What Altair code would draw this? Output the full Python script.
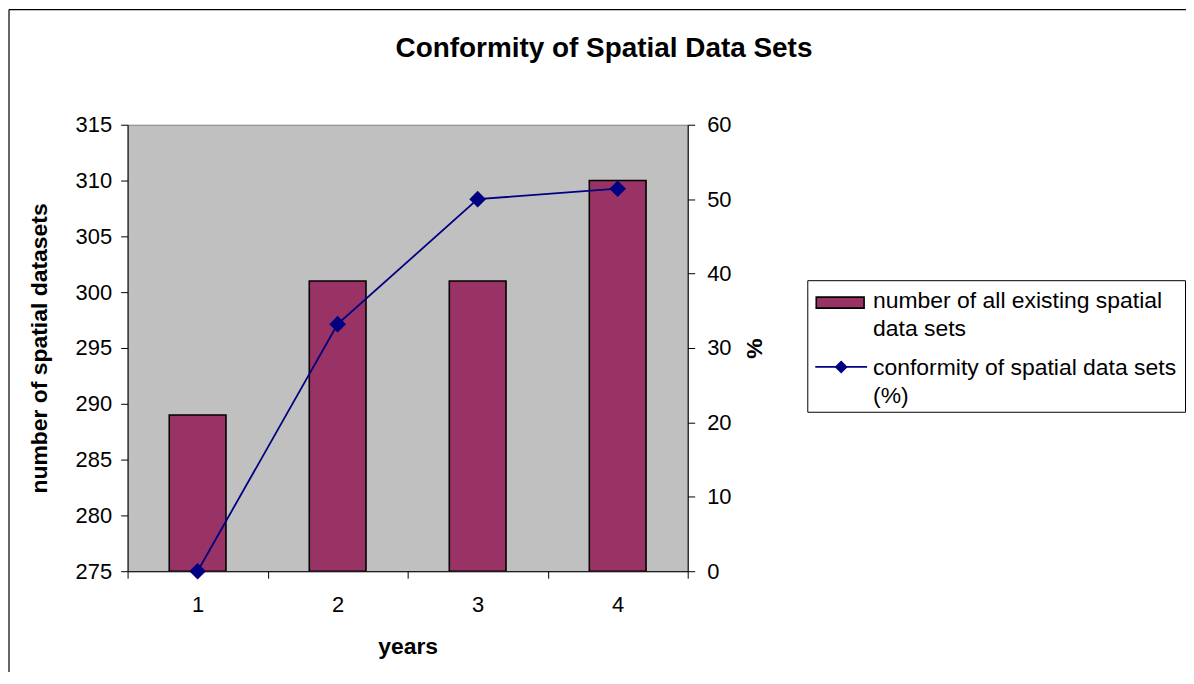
import altair as alt
import pandas as pd

# ---- data ----
YEARS = ["1", "2", "3", "4"]
DATASETS = [289, 301, 301, 310]
CONFORMITY = [0, 33.2, 50, 51.4]

TITLE = "Conformity of Spatial Data Sets"
BAR_LABEL = ["number of all existing spatial", "data sets"]
LINE_LABEL = ["conformity of spatial data sets", "(%)"]
LEFT_TITLE = "number of spatial datasets"
RIGHT_TITLE = "%"
X_TITLE = "years"
LEFT_TICKS = [275, 280, 285, 290, 295, 300, 305, 310, 315]
RIGHT_TICKS = [0, 10, 20, 30, 40, 50, 60]

BAR_COLOR = "#993366"
LINE_COLOR = "#000080"
FONT = "Liberation Sans"

df = pd.DataFrame({"year": YEARS, "datasets": DATASETS, "conformity": CONFORMITY})

W, H = 562, 448
TOTAL_W, TOTAL_H = 1182, 664
PAD_L, PAD_T = 120, 116

x_enc = alt.X(
    "year:O",
    sort=YEARS,
    scale=alt.Scale(paddingInner=0, paddingOuter=0),
    axis=alt.Axis(
        title=X_TITLE, labelAngle=0, tickBand="extent", grid=False,
        domainColor="black", tickColor="black", tickSize=7,
        labelFontSize=22, labelPadding=16, labelColor="black",
        titleFontSize=23, titleFontWeight="bold", titleColor="black",
        titleX=W / 2, titleY=76, titleBaseline="middle",
    ),
)

bars = alt.Chart(df).mark_bar(
    width=alt.RelativeBandSize(0.405), fill=BAR_COLOR, stroke="black", strokeWidth=1.6, clip=True
).encode(
    x=x_enc,
    y=alt.Y(
        "datasets:Q",
        scale=alt.Scale(domain=[275, 315], nice=False, zero=False),
        axis=alt.Axis(
            orient="left", values=LEFT_TICKS, grid=False, title=LEFT_TITLE,
            domainColor="black", tickColor="black", tickSize=7,
            labelFontSize=22, labelPadding=9, labelColor="black",
            titleFontSize=23, titleFontWeight="bold", titleColor="black",
            titleAngle=-90, titleX=-88, titleY=H / 2, titleBaseline="middle",
        ),
    ),
    y2=alt.datum(275),
)

line = alt.Chart(df).mark_line(
    color=LINE_COLOR, strokeWidth=1.8,
    point=alt.OverlayMarkDef(shape="diamond", size=280, filled=True, color=LINE_COLOR, opacity=1),
).encode(
    x=x_enc,
    y=alt.Y(
        "conformity:Q",
        scale=alt.Scale(domain=[0, 60], nice=False),
        axis=alt.Axis(
            orient="right", values=RIGHT_TICKS, grid=False, title=RIGHT_TITLE,
            domainColor="black", tickColor="black", tickSize=7,
            labelFontSize=22, labelPadding=12, labelColor="black",
            titleFontSize=23, titleFontWeight="bold", titleColor="black",
            titleAngle=-90, titleX=67, titleY=H / 2, titleBaseline="middle",
        ),
    ),
)

one = pd.DataFrame({"d": [0]})

frame_left = alt.Chart(one).mark_rule(color="black", strokeWidth=1.2).encode(
    x=alt.value(-PAD_L + 1), y=alt.value(-PAD_T + 0.5), y2=alt.value(TOTAL_H)
)
frame_top = alt.Chart(one).mark_rule(color="black", strokeWidth=1.2).encode(
    x=alt.value(-PAD_L + 1), x2=alt.value(TOTAL_W), y=alt.value(-PAD_T + 0.5)
)

title = alt.Chart(one).mark_text(
    text=TITLE, font=FONT, fontSize=28, fontWeight="bold", align="center", baseline="middle", color="black"
).encode(x=alt.value(478), y=alt.value(-76))

legend_box = alt.Chart(one).mark_rect(fill="white", stroke="black", strokeWidth=1).encode(
    x=alt.value(682.5), x2=alt.value(1061.5), y=alt.value(156.5), y2=alt.value(288.5)
)
legend_swatch = alt.Chart(one).mark_rect(fill=BAR_COLOR, stroke="black", strokeWidth=1.6).encode(
    x=alt.value(691), x2=alt.value(739), y=alt.value(173), y2=alt.value(184)
)
legend_rule = alt.Chart(one).mark_rule(color=LINE_COLOR, strokeWidth=1.8).encode(
    x=alt.value(690), x2=alt.value(742), y=alt.value(243)
)
legend_diamond = alt.Chart(one).mark_point(shape="diamond", filled=True, size=170, color=LINE_COLOR, opacity=1).encode(
    x=alt.value(716), y=alt.value(243)
)
legend_text1 = alt.Chart(one).mark_text(
    text=BAR_LABEL, font=FONT, fontSize=23, lineHeight=28, align="left", baseline="middle", color="black"
).encode(x=alt.value(748), y=alt.value(177))
legend_text2 = alt.Chart(one).mark_text(
    text=LINE_LABEL, font=FONT, fontSize=23, lineHeight=28, align="left", baseline="middle", color="black"
).encode(x=alt.value(748), y=alt.value(244))

chart = alt.layer(
    frame_left, frame_top, bars, line, title, legend_box, legend_swatch, legend_rule, legend_diamond,
    legend_text1, legend_text2
).resolve_scale(y="independent").properties(
    width=W, height=H,
    autosize=alt.AutoSizeParams(type="none"),
    padding={"left": PAD_L, "top": PAD_T, "right": TOTAL_W - PAD_L - W, "bottom": TOTAL_H - PAD_T - H},
).configure(
    font=FONT, background="white"
).configure_view(
    fill="#C0C0C0", stroke="#808080", strokeWidth=1
)

chart.save("out.html", embed_options={"renderer": "svg", "actions": False})
